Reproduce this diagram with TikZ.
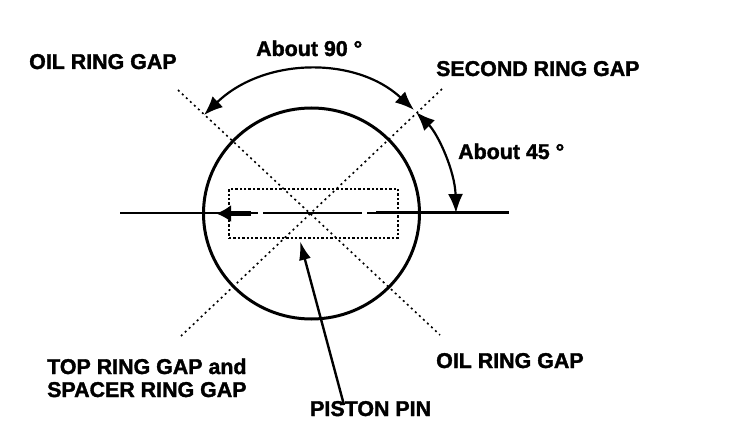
\documentclass[tikz,border=0pt]{standalone}
\usepackage{fontspec}
\setmainfont{Liberation Sans}[BoldFont={Liberation Sans Bold},BoldFeatures={FakeBold=1.6}]
\usetikzlibrary{arrows.meta,shapes.geometric}
\tikzset{
  x=1pt,y=1pt,
  lbl/.style={font=\fontsize{21.4}{23}\selectfont\bfseries,text=black,inner sep=0pt,align=left},
  gapline/.style={line width=1.6pt,dash pattern=on 2pt off 3.5pt},
  pinbox/.style={line width=2.2pt,dash pattern=on 2.4pt off 2pt},
  tipped/.style={line width=2.2pt},
  bigtip/.style={tipped,{Latex[length=19pt,width=15pt]}-{Latex[length=19pt,width=15pt]}},
}
\begin{document}
\begin{tikzpicture}
\useasboundingbox (0,0) rectangle (736,434);
\fill[white] (0,0) rectangle (736,434);
% all coordinates: x = px, y = 434 - py
\coordinate (c) at (311.5,220.5);
\coordinate (ringL) at (120,221);
\coordinate (ringM) at (203,221);
\coordinate (ringA) at (258,221);
\coordinate (ringB) at (263,221);
\coordinate (ringC) at (362,221);
\coordinate (ringD) at (367,221);
\coordinate (ringE) at (376,221);
\coordinate (ringR) at (509,221);
\coordinate (gapA) at (178,344);
\coordinate (gapB) at (442,345);
\coordinate (gapC) at (181,98);
\coordinate (gapD) at (440,99);
\coordinate (arrS) at (251,220.5);
\coordinate (arrE) at (216,220.5);
\coordinate (pinS) at (344,29);
\coordinate (pinE) at (300,193);
\coordinate (arcL) at (204,319);
\coordinate (arcM) at (416,322);
\coordinate (arcN) at (414,324);
\coordinate (arcR) at (456,221);

\node[ellipse,draw,line width=3pt,minimum width=216pt,minimum height=211pt,inner sep=0pt] (ring) at (c) {};
\node[draw,pinbox,minimum width=169pt,minimum height=49pt,inner sep=0pt] (pin) at (313.5,220.5) {};
\draw[gapline] (gapA) -- (gapD);
\draw[gapline] (gapB) -- (gapC);
\draw[line width=1.5pt] (ringL) -- (ringM);
\draw[line width=1.8pt] (ringM) -- (ringA);
\draw[line width=2pt] (ringB) -- (ringC);
\draw[line width=2.4pt] (ringD) -- (ringE);
\draw[line width=3pt] (ringE) -- (ringR);
\draw[line width=5pt,-{Latex[length=15pt,width=17pt]}] (arrS) -- (arrE);
\draw[line width=2.4pt,-{Latex[length=19pt,width=12pt]}] (pinS) -- (pinE);
\draw[bigtip]
  (arcL) .. controls (264,377) and (356,378) .. (arcN);
\draw[bigtip]
  (arcM) .. controls (438,300) and (455,263) .. (arcR);

\node[lbl,anchor=base west] (t90) at (256,378) {About 90 °};
\node[lbl,anchor=base west] (t45) at (458,275) {About 45 °};
\node[lbl,anchor=base west] (tOilA) at (29,365) {OIL RING GAP};
\node[lbl,anchor=base west] (tSec) at (436,358) {SECOND RING GAP};
\node[lbl,anchor=base west] (tOilB) at (436,66) {OIL RING GAP};
\node[lbl,anchor=base west] (tTop) at (47,60) {TOP RING GAP and};
\node[lbl,anchor=base west] (tSpc) at (47,37) {SPACER RING GAP};
\node[lbl,anchor=base west] (tPin) at (310,18) {PISTON PIN};
\end{tikzpicture}
\end{document}
